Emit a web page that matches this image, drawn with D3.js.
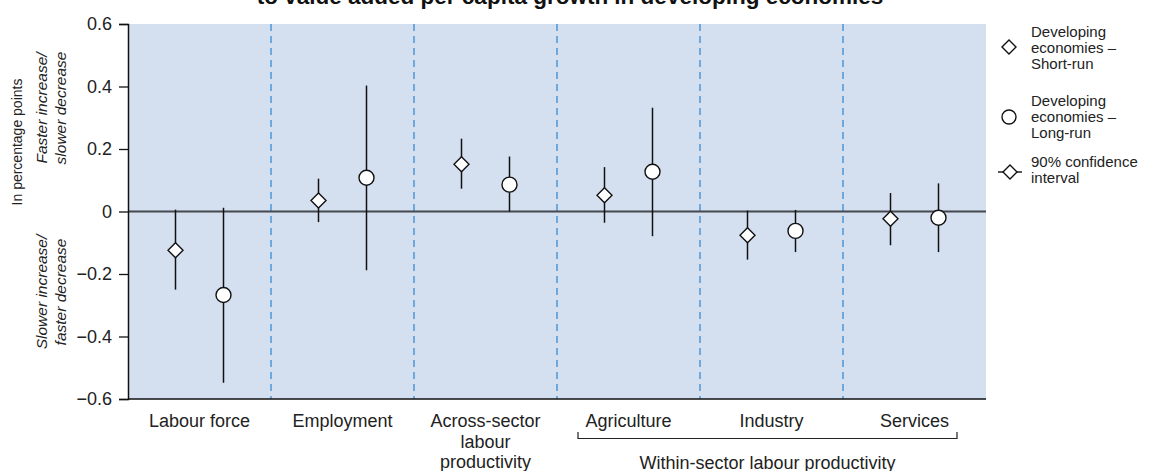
<!DOCTYPE html>
<html><head><meta charset="utf-8">
<script src="https://cdn.jsdelivr.net/npm/d3@7"></script>
<style>
body{margin:0;background:#fff;}
svg{display:block;font-family:"Liberation Sans",Arial,sans-serif;}
</style></head>
<body><svg id="c" width="1150" height="471"></svg>
<script>
const categories = ["Labour force","Employment","Across-sector labour productivity","Agriculture","Industry","Services"];
const categoryLines = [["Labour force"],["Employment"],["Across-sector","labour","productivity"],["Agriculture"],["Industry"],["Services"]];
const shortRun = [-0.124, 0.035, 0.151, 0.052, -0.076, -0.023];
const shortLo  = [-0.250, -0.034, 0.073, -0.036, -0.154, -0.108];
const shortHi  = [0.006, 0.105, 0.233, 0.142, 0.003, 0.059];
const longRun  = [-0.267, 0.108, 0.086, 0.127, -0.062, -0.020];
const longLo   = [-0.548, -0.188, 0.000, -0.079, -0.130, -0.130];
const longHi   = [0.012, 0.403, 0.176, 0.332, 0.005, 0.090];
const yTicks = [-0.6,-0.4,-0.2,0,0.2,0.4,0.6];
const yTickLabels = ["\u22120.6","\u22120.4","\u22120.2","0","0.2","0.4","0.6"];
const legendLabels = [["Developing","economies \u2013","Short-run"],["Developing","economies \u2013","Long-run"],["90% confidence","interval"]];
const groupLabel = "Within-sector labour productivity";
const titleText = "to value added per capita growth in developing economies";

const svg = d3.select("#c");
const L=128, R=986, T=24, B=399;
const x = d3.scaleBand().domain(categories).range([L,R]).padding(0);
const y = d3.scaleLinear().domain([-0.6,0.6]).range([B,T]);
const off = 24;

// title (cut off at top, as in the reference)
svg.append("text").attr("x",570).attr("y",4).attr("text-anchor","middle")
  .attr("font-weight","bold").attr("font-size",22.5).attr("fill","#111").text(titleText);

// background
svg.append("rect").attr("x",L).attr("y",T).attr("width",R-L).attr("height",B-T).attr("fill","#d4dff0");

// dashed separators
svg.selectAll("line.sep").data(categories.slice(1)).enter().append("line")
  .attr("x1",d=>x(d)).attr("x2",d=>x(d)).attr("y1",T).attr("y2",B)
  .attr("stroke","#6fa8dc").attr("stroke-width",2).attr("stroke-dasharray","7,5");

// zero line
svg.append("line").attr("x1",L).attr("x2",R).attr("y1",y(0)).attr("y2",y(0))
  .attr("stroke","#45494e").attr("stroke-width",2);

// y axis
const ya = svg.append("g").attr("transform",`translate(${L},0)`)
  .call(d3.axisLeft(y).tickValues(yTicks).tickSize(9).tickPadding(7).tickFormat((d,i)=>yTickLabels[i]));
ya.select(".domain").attr("stroke","#111").attr("stroke-width",1.5);
ya.selectAll(".tick line").attr("stroke","#111").attr("stroke-width",1.3);
ya.selectAll(".tick text").attr("font-size",18).attr("fill","#222").attr("font-family","Liberation Sans, Arial, sans-serif");
// bottom border
svg.append("line").attr("x1",L).attr("x2",R).attr("y1",B).attr("y2",B).attr("stroke","#111").attr("stroke-width",1.5);

// x labels
categories.forEach((c,i)=>{
  const t = svg.append("text").attr("x",x(c)+x.bandwidth()/2).attr("y",427).attr("text-anchor","middle")
    .attr("font-size",18).attr("fill","#222");
  categoryLines[i].forEach((ln,j)=>t.append("tspan").attr("x",x(c)+x.bandwidth()/2).attr("dy",j?20.5:0).text(ln));
});
// bracket
const bx1 = x(categories[3])+21, bx2 = x(categories[5])+x.bandwidth()-29;
svg.append("path").attr("d",`M${bx1},432V438.5H${bx2}V432`).attr("fill","none").attr("stroke","#222").attr("stroke-width",1.2);
svg.append("text").attr("x",(bx1+bx2)/2).attr("y",468.5).attr("text-anchor","middle").attr("font-size",18).attr("fill","#222").text(groupLabel);

// y-axis titles
svg.append("text").attr("transform",`translate(22,142) rotate(-90)`).attr("text-anchor","middle")
  .attr("font-size",14).attr("fill","#222").text("In percentage points");
const ital = (cx,cy,l1,l2)=>{
  const t = svg.append("text").attr("transform",`translate(${cx},${cy}) rotate(-90)`).attr("text-anchor","middle")
   .attr("font-size",15.5).attr("font-style","italic").attr("fill","#222");
  t.append("tspan").attr("x",0).attr("dy",0).text(l1);
  t.append("tspan").attr("x",0).attr("dy",19).text(l2);
};
ital(47,108,"Faster increase/","slower decrease");
ital(47,292,"Slower increase/","faster decrease");

// CI lines
const ci = svg.append("g").attr("stroke","#111").attr("stroke-width",1.5);
categories.forEach((c,i)=>{
  const cx = x(c)+x.bandwidth()/2;
  ci.append("line").attr("x1",cx-off).attr("x2",cx-off).attr("y1",y(shortLo[i])).attr("y2",y(shortHi[i]));
  ci.append("line").attr("x1",cx+off).attr("x2",cx+off).attr("y1",y(longLo[i])).attr("y2",y(longHi[i]));
});
const diamond = (g,cx,cy,r)=>g.append("path").attr("d",`M${cx},${cy-r}L${cx+r},${cy}L${cx},${cy+r}L${cx-r},${cy}Z`)
  .attr("fill","#fff").attr("stroke","#111").attr("stroke-width",1.4);
const pts = svg.append("g");
categories.forEach((c,i)=>{
  const cx = x(c)+x.bandwidth()/2;
  diamond(pts,cx-off,y(shortRun[i]),7.5);
  pts.append("circle").attr("cx",cx+off).attr("cy",y(longRun[i])).attr("r",7.5)
    .attr("fill","#fff").attr("stroke","#111").attr("stroke-width",1.4);
});

// legend
const lg = svg.append("g");
const ltext = (x0,y0,lines)=>{
  const t = lg.append("text").attr("x",x0).attr("y",y0).attr("font-size",15).attr("fill","#222");
  lines.forEach((ln,j)=>t.append("tspan").attr("x",x0).attr("dy",j?16:0).text(ln));
};
diamond(lg,1009,47,7);
ltext(1031,36.5,legendLabels[0]);
lg.append("circle").attr("cx",1009).attr("cy",117).attr("r",7).attr("fill","#fff").attr("stroke","#111").attr("stroke-width",1.4);
ltext(1031,105.5,legendLabels[1]);
lg.append("line").attr("x1",998).attr("x2",1022).attr("y1",172).attr("y2",172).attr("stroke","#111").attr("stroke-width",1.4);
diamond(lg,1010,172,7);
ltext(1031,167,legendLabels[2]);
</script></body></html>
